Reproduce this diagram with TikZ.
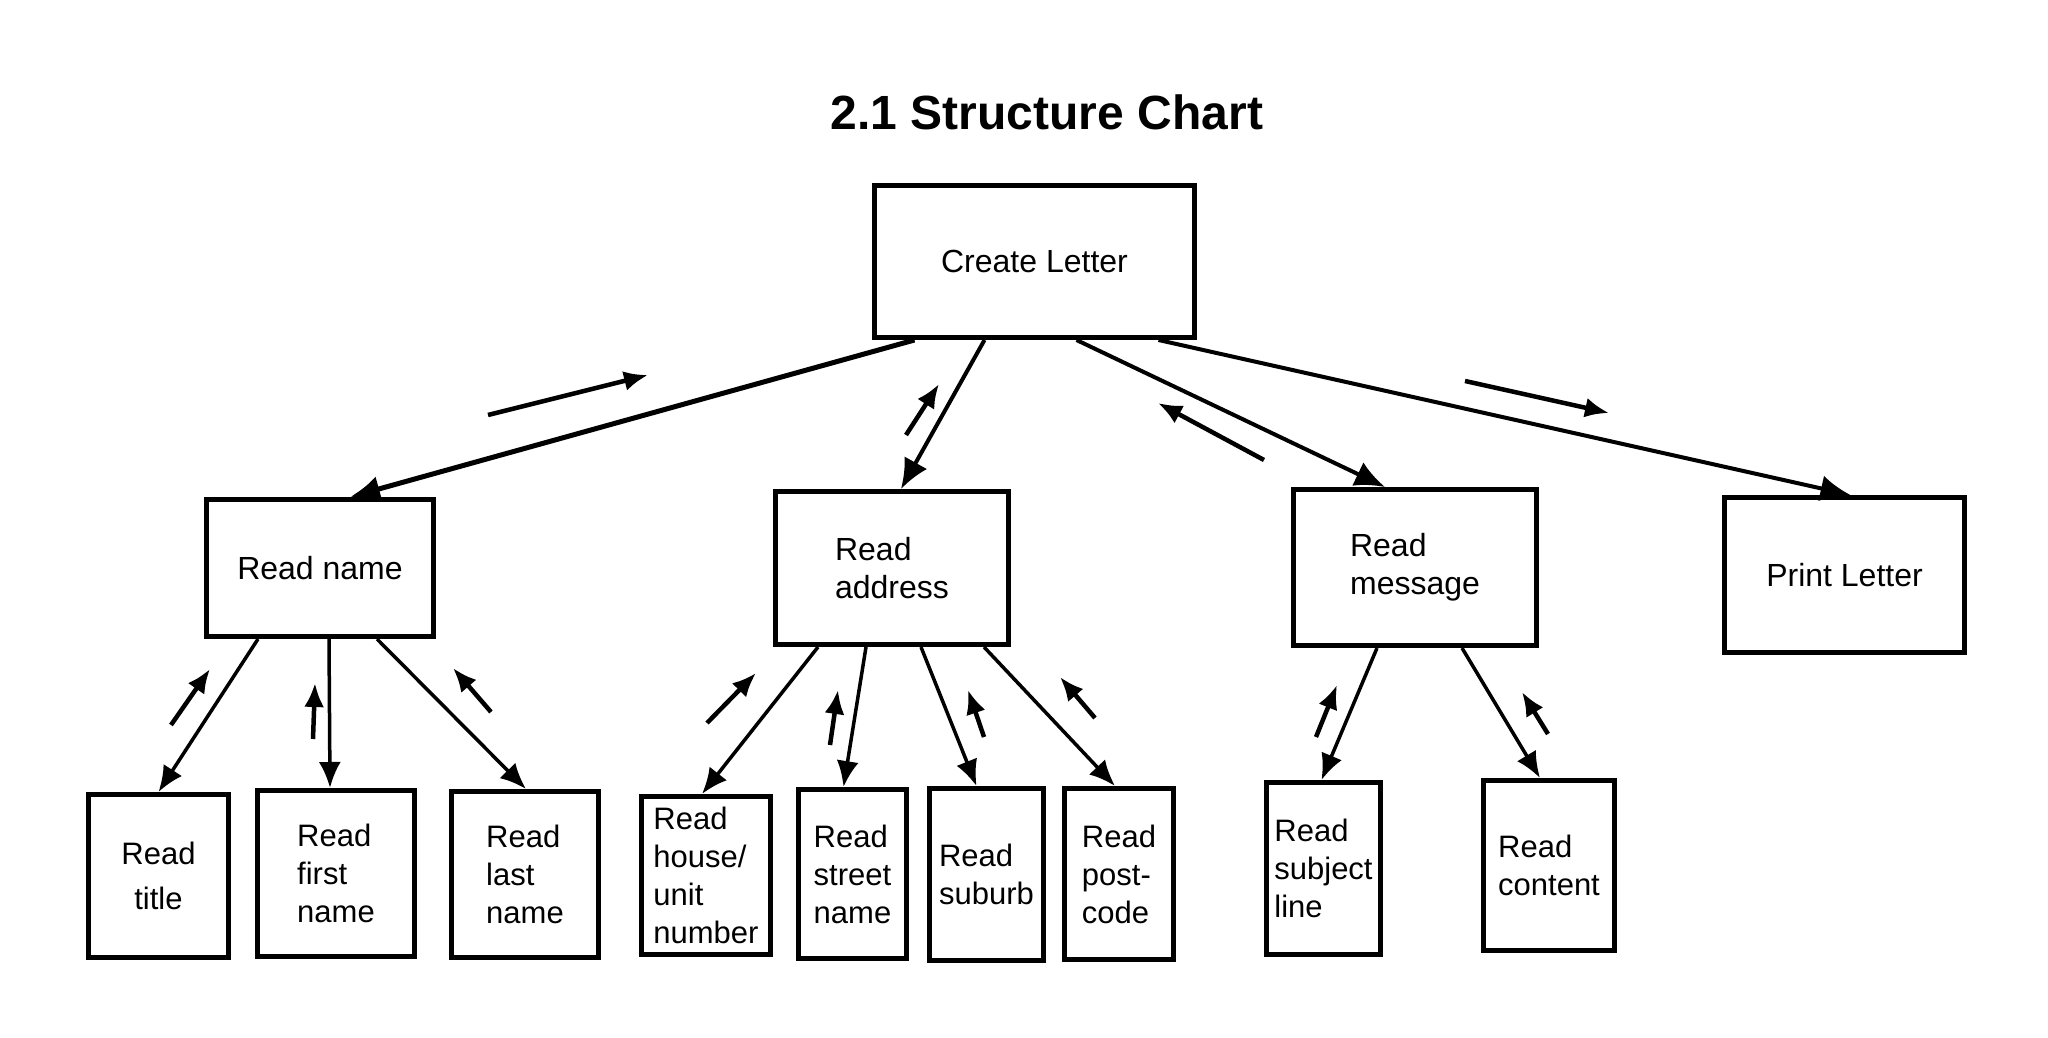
\documentclass[tikz,border=0pt]{standalone}
\usepackage{fontspec}
\setmainfont{Liberation Sans}
\usepackage{tikz}
\usetikzlibrary{arrows.meta, positioning}

\begin{document}
\begin{tikzpicture}[x=1pt, y=-1pt]
        % Define block styles
        \tikzstyle{block} = [draw, line width=5pt, rectangle, inner sep=2pt, align=left, font=\fontsize{32}{38}\selectfont]
        \tikzstyle{leaf} = [block, font=\fontsize{31}{38}\selectfont]
        \tikzstyle{link} = [line width=4pt, -{Latex[length=30pt,width=26pt]}]
        \tikzstyle{sublink} = [line width=3.5pt, -{Latex[length=26pt,width=22pt]}]
        \tikzstyle{flow} = [line width=4.5pt, -{Latex[length=24pt,width=20pt]}]

        \useasboundingbox (0,0) rectangle (2048,1038);

        % Heading
        \node [font=\bfseries\fontsize{48}{54}\selectfont] (heading) at (1047,112) {2.1 Structure Chart};

        % Nodes
        \node [block, minimum width=320pt, minimum height=152pt] (create) at (1034.5,261.5) {Create Letter};
        \node [block, minimum width=227pt, minimum height=137pt] (name) at (320,568) {Read name};
        \node [block, minimum width=233pt, minimum height=153pt] (address) at (892,568) {Read\\address};
        \node [block, minimum width=243pt, minimum height=156pt] (message) at (1415,567.5) {Read\\message};
        \node [block, minimum width=240pt, minimum height=155pt] (print) at (1844.5,575) {Print Letter};

        \node [leaf, align=center, minimum width=140pt, minimum height=163pt] (title) at (158.5,876) {Read\\[7pt]title};
        \node [leaf, minimum width=157pt, minimum height=166pt] (first) at (336,873.5) {Read\\first\\name};
        \node [leaf, minimum width=147pt, minimum height=166pt] (last) at (525,874.5) {Read\\last\\name};
        \node [leaf, minimum width=129pt, minimum height=158pt] (house) at (706,875.5) {Read\\house/\\unit\\number};
        \node [leaf, minimum width=108pt, minimum height=169pt] (street) at (852.5,874) {Read\\street\\name};
        \node [leaf, minimum width=114pt, minimum height=172pt] (suburb) at (986.5,874.5) {Read\\suburb};
        \node [leaf, minimum width=109pt, minimum height=171pt] (post) at (1119,874) {Read\\post-\\code};
        \node [leaf, minimum width=114pt, minimum height=172pt] (subject) at (1323.5,868.5) {Read\\subject\\line};
        \node [leaf, minimum width=131pt, minimum height=170pt] (content) at (1549,865.5) {Read\\content};

        % Edges
        \draw [link, line width=5pt] ([xshift=-120pt]create.south) -- ([xshift=30pt]name.north);
        \draw [link] ([xshift=-50pt]create.south) -- ([xshift=9pt]address.north);
        \draw [link] ([xshift=42pt]create.south) -- ([xshift=-30pt]message.north);
        \draw [link] ([xshift=124pt]create.south) -- ([xshift=6pt]print.north);

        \draw [sublink] ([xshift=-62pt]name.south) -- (title.north);
        \draw [sublink] ([xshift=9pt]name.south) -- ([xshift=-6pt]first.north);
        \draw [sublink] ([xshift=57pt]name.south) -- ([xshift=1pt]last.north);

        \draw [sublink] ([xshift=-74pt]address.south) -- ([xshift=-4pt]house.north);
        \draw [sublink] ([xshift=-26pt]address.south) -- ([xshift=-9pt]street.north);
        \draw [sublink] ([xshift=29pt]address.south) -- ([xshift=-10pt]suburb.north);
        \draw [sublink] ([xshift=92pt]address.south) -- ([xshift=-4pt]post.north);

        \draw [sublink] ([xshift=-38pt]message.south) -- ([xshift=-2pt]subject.north);
        \draw [sublink] ([xshift=47pt]message.south) -- ([xshift=-9pt]content.north);

        % Data flows
        \draw [flow] (488,415) -- (648,375);
        \draw [flow] (906,435) -- (939,384);
        \draw [flow] (1264,460) -- (1158,403);
        \draw [flow] (1465,381) -- (1609,413);
        \draw [flow] (171,725) -- (210,669);
        \draw [flow] (313,739) -- (315,683);
        \draw [flow] (491,712) -- (453,668);
        \draw [flow] (707,723) -- (756,673);
        \draw [flow] (830,745) -- (838,690);
        \draw [flow] (984,737) -- (968,690);
        \draw [flow] (1095,718) -- (1060,677);
        \draw [flow] (1316,737) -- (1337,685);
        \draw [flow] (1548,734) -- (1522,692);
    \end{tikzpicture}
\end{document}
